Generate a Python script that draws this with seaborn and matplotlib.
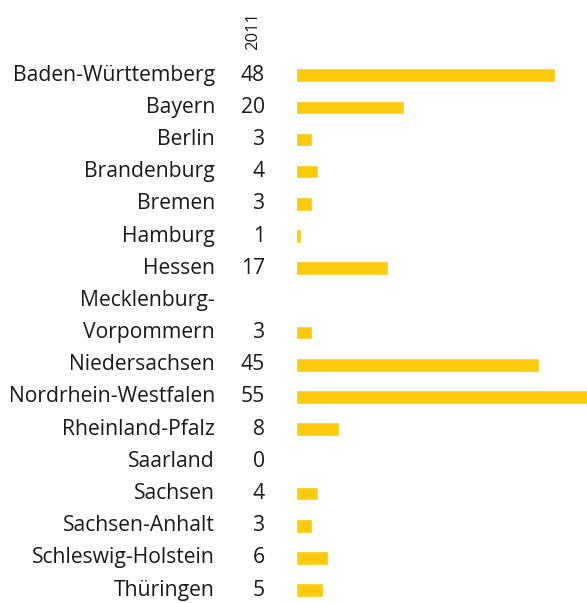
import matplotlib
matplotlib.use("Agg")
import matplotlib.pyplot as plt
import matplotlib.transforms as mtransforms
import seaborn as sns
import pandas as pd

states = ["Baden-Württemberg", "Bayern", "Berlin", "Brandenburg", "Bremen",
          "Hamburg", "Hessen", "Mecklenburg-\nVorpommern", "Niedersachsen",
          "Nordrhein-Westfalen", "Rheinland-Pfalz", "Saarland", "Sachsen",
          "Sachsen-Anhalt", "Schleswig-Holstein", "Thüringen"]
values = [48, 20, 3, 4, 3, 1, 17, 3, 45, 55, 8, 0, 4, 3, 6, 5]
year_label = "2011"

# row positions: Mecklenburg-Vorpommern label occupies two text lines
rows = []
r = 0
for s in states:
    r += s.count("\n")
    rows.append(r)
    r += 1

sns.set_theme(style="white")
plt.rcParams["font.family"] = ["Open Sans", "DejaVu Sans"]

W, H = 587, 603
fig = plt.figure(figsize=(W / 100, H / 100), dpi=100)
ax = fig.add_axes([296 / W, 0, (W - 296) / W, 544 / H])

df = pd.DataFrame({"row": rows, "value": values})
sns.barplot(data=df, x="value", y="row", orient="h", native_scale=True,
            color="#FDCA0C", saturation=1, width=0.42, ax=ax)

ax.set_xlim(0, 291 / 5.4)
ax.set_ylim(16.4, -0.5)
ax.axis("off")

tr = mtransforms.blended_transform_factory(fig.transFigure, ax.transData)
for s, v, y in zip(states, values, rows):
    lines = s.split("\n")
    for k, line in enumerate(lines):
        ly = y - (len(lines) - 1 - k)
        ax.text(215 / W, ly, line, transform=tr, ha="right", va="center",
                fontsize=15.2, color="#1a1a1a", clip_on=False)
    ax.text(265 / W, y, str(v), transform=tr, ha="right", va="center",
            fontsize=15.2, color="#1a1a1a", clip_on=False)

fig.text(253 / W, 1 - 50 / H, year_label, rotation=90, ha="center", va="bottom",
         fontsize=12, color="#1a1a1a")

fig.savefig("out.png", dpi=100)
